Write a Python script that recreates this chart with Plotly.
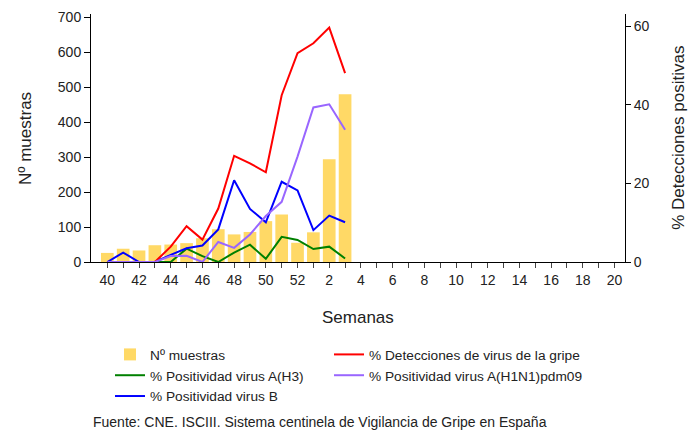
"""Vigilancia de gripe: muestras centinela y % de positividad por semana."""

import plotly.graph_objs as go

# semanas de la temporada (eje X)
semanas = [str(w) for w in range(40, 53)] + [str(w) for w in range(1, 21)]

# semanas con datos
semanas_datos = [str(w) for w in range(40, 53)] + ["1", "2", "3"]

n_muestras = [26, 38, 33, 48, 50, 54, 68, 94, 79, 86, 117, 136, 55, 85, 294, 480]
pct_detecciones = [None, None, None, 0, 3.9, 9.1, 5.7, 13.6, 27.0, 25.1, 22.8, 42.4, 53.1, 55.6, 59.6, 48.0]
pct_h3 = [0, 0, 0, 0, 0, 3.4, 1.5, 0, 2.4, 4.4, 0.8, 6.4, 5.6, 3.3, 3.9, 0.9]
pct_b = [0, 2.4, 0, 0, 1.8, 3.5, 4.2, 8.3, 20.8, 13.5, 10.1, 20.4, 18.2, 8.1, 11.8, 10.1]
pct_h1n1 = [0, 0, 0, 0, 1.5, 1.6, 0, 5.1, 3.6, 7.0, 11.7, 15.3, 26.8, 39.3, 40.1, 33.6]

etiquetas_x = [s if i % 2 == 0 else "" for i, s in enumerate(semanas)]

FONT = "Liberation Sans, Arial, sans-serif"

fig = go.Figure()

fig.add_trace(go.Bar(x=semanas_datos, y=n_muestras, name="Nº muestras",
                     marker=dict(color="#FFD966", line=dict(width=0)),
                     width=0.8, legend="legend"))

fig.add_trace(go.Scatter(x=semanas_datos, y=pct_h3, name="% Positividad virus A(H3)",
                         mode="lines", line=dict(color="#008000", width=2),
                         yaxis="y2", legend="legend"))

fig.add_trace(go.Scatter(x=semanas_datos, y=pct_b, name="% Positividad virus B",
                         mode="lines", line=dict(color="#0000FF", width=2),
                         yaxis="y2", legend="legend"))

fig.add_trace(go.Scatter(x=semanas_datos, y=pct_detecciones, name="% Detecciones de virus de la gripe",
                         mode="lines", line=dict(color="#FF0000", width=2),
                         yaxis="y2", legend="legend2"))

fig.add_trace(go.Scatter(x=semanas_datos, y=pct_h1n1, name="% Positividad virus A(H1N1)pdm09",
                         mode="lines", line=dict(color="#9966FF", width=2),
                         yaxis="y2", legend="legend2"))

leyenda = dict(orientation="v", yanchor="top", y=-0.3105, xanchor="left",
               font=dict(size=13.7), bgcolor="rgba(0,0,0,0)", tracegroupgap=0,
               traceorder="normal")

# la pagina tiene un margen de 8px en el body, la figura se ajusta a ello
fig.update_layout(
    width=689, height=424,
    margin=dict(l=83, r=72, t=6, b=170, autoexpand=False),
    paper_bgcolor="white", plot_bgcolor="white",
    font=dict(family=FONT, size=14, color="#222"),
    xaxis=dict(type="category", categoryorder="array", categoryarray=semanas,
               tickvals=semanas, ticktext=etiquetas_x,
               range=[-1.03, 32.66], showline=True, linecolor="black", linewidth=1,
               ticks="outside", ticklen=5, tickcolor="#444", showgrid=False,
               zeroline=False),
    yaxis=dict(range=[0, 710], tickvals=[0, 100, 200, 300, 400, 500, 600, 700],
               showline=True, linecolor="black", linewidth=1,
               ticks="outside", ticklen=6, tickcolor="black",
               showgrid=False, zeroline=False),
    yaxis2=dict(range=[0, 63.05], tickvals=[0, 20, 40, 60], overlaying="y", side="right",
                showline=True, linecolor="black", linewidth=1,
                ticks="outside", ticklen=5, tickcolor="black",
                showgrid=False, zeroline=False),
    legend=dict(leyenda, x=0.0356),
    legend2=dict(leyenda, x=0.4457),
    showlegend=True,
)

fig.add_annotation(text="Semanas", xref="paper", yref="paper", x=0.5, y=-0.222,
                   showarrow=False, font=dict(size=17), xanchor="center", yanchor="middle")
fig.add_annotation(text="Nº muestras", xref="paper", yref="paper", x=-0.1236, y=0.5,
                   textangle=-90, showarrow=False, font=dict(size=17),
                   xanchor="center", yanchor="middle")
fig.add_annotation(text="% Detecciones positivas", xref="paper", yref="paper", x=1.099, y=0.5,
                   textangle=-90, showarrow=False, font=dict(size=17),
                   xanchor="center", yanchor="middle")
fig.add_annotation(text="Fuente: CNE. ISCIII. Sistema centinela de Vigilancia de Gripe en España",
                   xref="paper", yref="paper", x=0.0, y=-0.645, showarrow=False,
                   font=dict(size=14), xanchor="left", yanchor="middle")

fig.write_html("out.html")
